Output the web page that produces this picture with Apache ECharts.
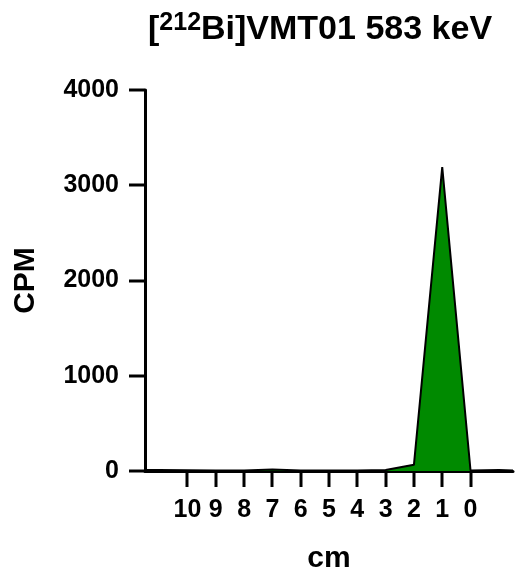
<!DOCTYPE html>
<html>
<head>
<meta charset="utf-8">
<script src="https://cdn.jsdelivr.net/npm/echarts@6/dist/echarts.min.js"></script>
<style>
  html, body { margin: 0; padding: 0; background: #fff; }
  #chart { width: 515px; height: 571px; }
</style>
</head>
<body>
<div id="chart"></div>
<script>
// distance (cm) and counts per minute
const positions = [11.5, 11, 10, 9, 8, 7, 6, 5, 4, 3, 2, 1, 0, -1, -1.5];
const cpm = [10, 10, 8, 5, 5, 15, 5, 5, 5, 10, 65, 3190, 5, 10, 5];
const xTicks = [0, 1, 2, 3, 4, 5, 6, 7, 8, 9, 10];
const yTicks = [0, 1000, 2000, 3000, 4000];
const xMin = -1.5, xMax = 11.5;

const chart = echarts.init(document.getElementById("chart"));
chart.setOption({
  animation: false,
  textStyle: { fontFamily: "'Liberation Sans', Arial, sans-serif" },
  title: {
    text: "[{sup|212}Bi]VMT01 583 keV",
    left: 143,
    top: 6,
    textStyle: {
      fontSize: 34,
      fontWeight: "bold",
      color: "#000",
      lineHeight: 38,
      rich: {
        sup: { fontSize: 25, fontWeight: "bold", color: "#000", verticalAlign: "top", lineHeight: 38 }
      }
    }
  },
  grid: { left: 145, right: 2, top: 90, bottom: 100, outerBoundsMode: "none" },
  xAxis: {
    type: "value",
    inverse: true,
    min: xMin,
    max: xMax,
    name: "cm",
    nameLocation: "middle",
    nameGap: 73,
    nameTextStyle: { fontSize: 30, fontWeight: "bold", color: "#000" },
    axisLine: { onZero: false, lineStyle: { color: "#000", width: 3 } },
    axisTick: { show: false },
    axisLabel: { fontSize: 25, fontWeight: "bold", color: "#000", margin: 27, customValues: xTicks },
    splitLine: { show: false }
  },
  yAxis: {
    type: "value",
    min: 0,
    max: 4000,
    interval: 1000,
    name: "CPM",
    nameLocation: "middle",
    nameGap: 104,
    nameTextStyle: { fontSize: 30, fontWeight: "bold", color: "#000" },
    axisLine: { show: true, onZero: false, lineStyle: { color: "#000", width: 3 } },
    axisTick: { show: false },
    axisLabel: { fontSize: 25, fontWeight: "bold", color: "#000", margin: 26, formatter: (v) => String(v) },
    splitLine: { show: false }
  },
  series: [
    {
      type: "line",
      data: positions.map((p, i) => [p, cpm[i]]),
      symbol: "none",
      lineStyle: { color: "#000", width: 2 },
      areaStyle: { color: "#008a00", opacity: 1 }
    }
  ]
});

// outward ticks, placed through the axis scales
const tickLen = 16;
const tickMarks = [];
xTicks.forEach((v) => {
  const p = chart.convertToPixel({ gridIndex: 0 }, [v, 0]);
  tickMarks.push({
    type: "rect", z: 100, zlevel: 1,
    shape: { x: Math.round(p[0]) - 1.5, y: Math.round(p[1]), width: 3, height: tickLen },
    style: { fill: "#000" }
  });
});
yTicks.forEach((v) => {
  const p = chart.convertToPixel({ gridIndex: 0 }, [xMax, v]);
  tickMarks.push({
    type: "rect", z: 100, zlevel: 1,
    shape: { x: Math.round(p[0]) - tickLen, y: Math.round(p[1]) - 1.5, width: tickLen, height: 3 },
    style: { fill: "#000" }
  });
});
chart.setOption({ graphic: { elements: tickMarks } });
</script>
</body>
</html>
